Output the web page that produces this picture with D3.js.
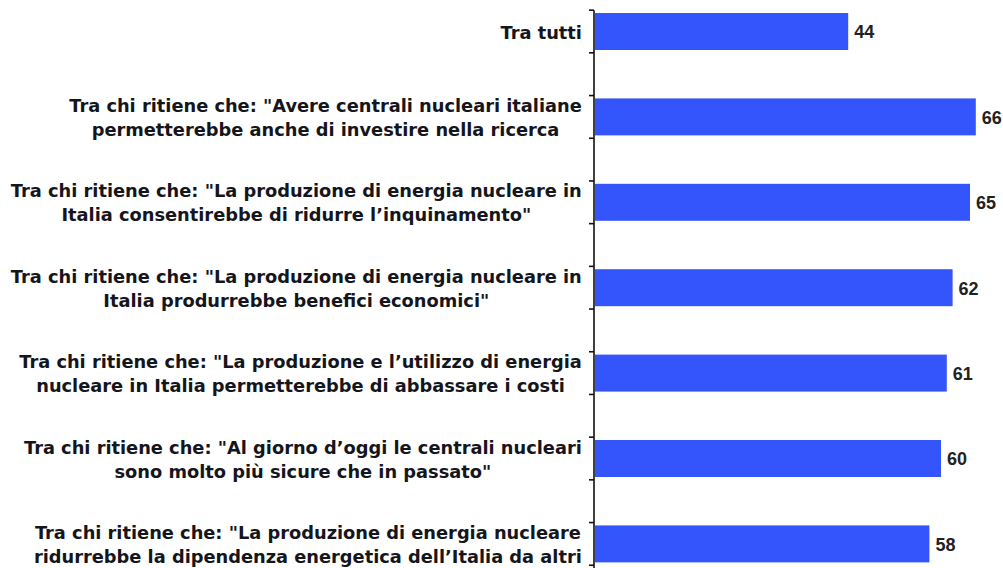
<!DOCTYPE html>
<html><head><meta charset="utf-8">
<script src="https://cdn.jsdelivr.net/npm/d3@7/dist/d3.min.js"></script>
<style>html,body{margin:0;padding:0;background:#fff;overflow:hidden}</style>
</head><body><svg id="c" width="1003" height="568"></svg>
<script>
const categories = [
  ["Tra tutti"],
  ["Tra chi ritiene che: \"Avere centrali nucleari italiane", "permetterebbe anche di investire nella ricerca"],
  ["Tra chi ritiene che: \"La produzione di energia nucleare in", "Italia consentirebbe di ridurre l\u2019inquinamento\""],
  ["Tra chi ritiene che: \"La produzione di energia nucleare in", "Italia produrrebbe benefici economici\""],
  ["Tra chi ritiene che: \"La produzione e l\u2019utilizzo di energia", "nucleare in Italia permetterebbe di abbassare i costi"],
  ["Tra chi ritiene che: \"Al giorno d\u2019oggi le centrali nucleari", "sono molto pi\u00f9 sicure che in passato\""],
  ["Tra chi ritiene che: \"La produzione di energia nucleare", "ridurrebbe la dipendenza energetica dell\u2019Italia da altri"]
];
const values = [44, 66, 65, 62, 61, 60, 58];
const keys = categories.map((c, i) => "c" + i);

const svg = d3.select("#c");
const axisX = 594;
const x = d3.scaleLinear().domain([0, 70]).range([593, 999]);
const step = 85.4;
const y0 = 31.5 - step / 2;
const pi = 0.567;
const y = d3.scaleBand().domain(keys).range([y0, y0 + step * keys.length])
  .paddingInner(pi).paddingOuter(pi / 2);
const st = y.step();
const center = k => y(k) + y.bandwidth() / 2;

// bars
svg.selectAll("rect.bar").data(values).join("rect")
  .attr("class", "bar")
  .attr("x", axisX + 1)
  .attr("y", (d, i) => y(keys[i]))
  .attr("width", d => x(d) - axisX - 1)
  .attr("height", y.bandwidth())
  .attr("fill", "#3355fb");

// axis with ticks at quarter-steps
const tickYs = [];
keys.forEach(k => { tickYs.push(center(k) - st / 4, center(k) + st / 4); });
svg.append("line").attr("x1", axisX).attr("x2", axisX)
  .attr("y1", d3.min(tickYs)).attr("y2", d3.max(tickYs) + st / 2)
  .attr("stroke", "#111").attr("stroke-width", 1.6);
svg.selectAll("line.tick").data(tickYs).join("line")
  .attr("class", "tick").attr("x1", axisX - 5).attr("x2", axisX)
  .attr("y1", d => d).attr("y2", d => d)
  .attr("stroke", "#111").attr("stroke-width", 1.6);

// value labels
svg.selectAll("text.val").data(values).join("text")
  .attr("class", "val")
  .attr("x", d => x(d) + 6)
  .attr("y", (d, i) => center(keys[i]) + 6.8)
  .attr("font-family", "Liberation Sans, Arial, sans-serif")
  .attr("font-weight", "bold").attr("font-size", 18)
  .attr("fill", "#222")
  .text(d => d);

// category labels: block right-aligned, lines centered within block
const lh = 24, capH = 13, rightEdge = 582;
const fontSize = 18;
const probe = svg.append("text").attr("font-family", "DejaVu Sans").attr("font-weight", "bold")
  .attr("font-size", fontSize).text(categories[1][0]);
const sx = 513 / probe.node().getComputedTextLength();
probe.remove();

categories.forEach((lines, i) => {
  const c = center(keys[i]);
  const g = svg.append("g");
  const texts = lines.map((ln, j) => g.append("text")
    .attr("font-family", "DejaVu Sans").attr("font-weight", "bold")
    .attr("font-size", fontSize).attr("fill", "#15151c")
    .attr("text-anchor", "middle")
    .attr("y", c + 0.7 + capH / 2 + (j - (lines.length - 1) / 2) * lh)
    .text(ln));
  const w = d3.max(texts, t => t.node().getComputedTextLength());
  texts.forEach(t => t.attr("x", -w / 2));
  g.attr("transform", `translate(${rightEdge},0) scale(${sx},1)`);
});
</script></body></html>
